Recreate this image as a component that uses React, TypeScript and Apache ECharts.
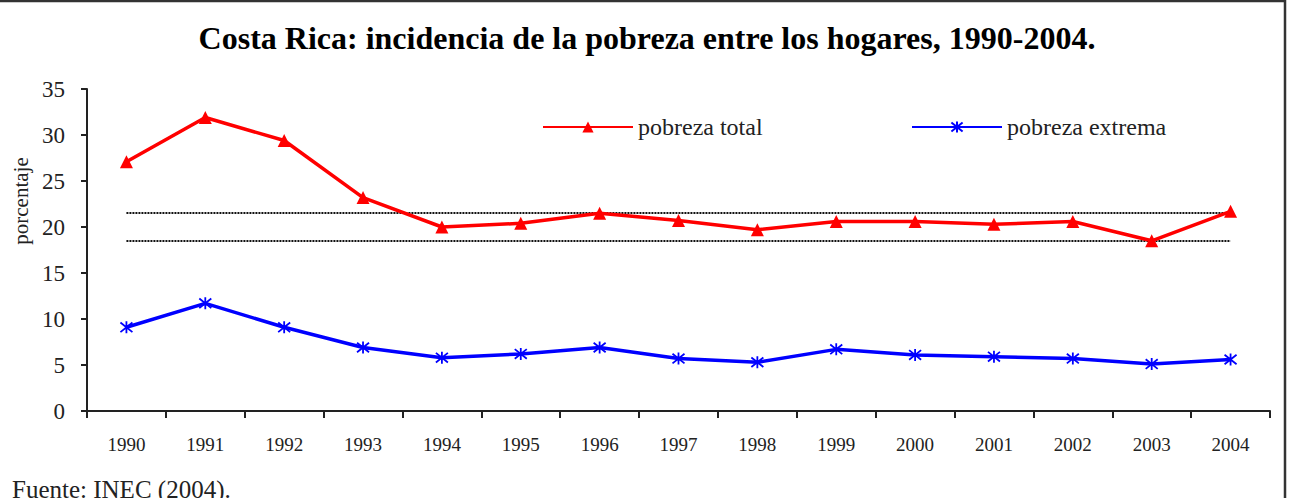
import React, { useEffect, useRef } from "react";
import * as echarts from "echarts";

const years = ["1990", "1991", "1992", "1993", "1994", "1995", "1996", "1997", "1998", "1999", "2000", "2001", "2002", "2003", "2004"];
const pobrezaTotal = [27.1, 31.9, 29.4, 23.2, 20.0, 20.4, 21.5, 20.7, 19.7, 20.6, 20.6, 20.3, 20.6, 18.5, 21.7];
const pobrezaExtrema = [9.1, 11.7, 9.1, 6.9, 5.8, 6.2, 6.9, 5.7, 5.3, 6.7, 6.1, 5.9, 5.7, 5.1, 5.6];
// band limits drawn as dotted horizontal guides
const bandLevels = [21.5, 18.5];
const yTicks = { min: 0, max: 35, interval: 5 };

const SERIF = "Liberation Serif";
const ASTERISK = "path://M1,1L9,9M9,1L1,9M5,0L5,10";

export default function App() {
  const ref = useRef<HTMLDivElement>(null);

  useEffect(() => {
    document.body.style.margin = "0";
    if (!ref.current) return;
    const chart = echarts.init(ref.current, undefined, { renderer: "svg" });

    const guideLines = bandLevels.map((v) => [
      { coord: [0, v] },
      { coord: [years.length - 1, v] },
    ]);

    const legendText = { fontFamily: SERIF, fontSize: 24, color: "#222" };

    chart.setOption({
      animation: false,
      backgroundColor: "#fff",
      textStyle: { fontFamily: SERIF },
      title: {
        text: "Costa Rica: incidencia de la pobreza entre los hogares, 1990-2004.",
        left: 642,
        textAlign: "center",
        top: 17,
        textStyle: { fontFamily: SERIF, fontWeight: "bold", fontSize: 32, color: "#000" },
      },
      legend: [
        {
          data: ["pobreza total"],
          left: 537,
          top: 110,
          itemWidth: 90,
          itemHeight: 14,
          textStyle: legendText,
        },
        {
          data: ["pobreza extrema"],
          left: 906,
          top: 110,
          itemWidth: 90,
          itemHeight: 14,
          textStyle: legendText,
        },
      ],
      grid: { left: 87, right: 21, top: 89, bottom: 87, containLabel: false },
      xAxis: {
        type: "category",
        data: years,
        boundaryGap: true,
        axisLine: { lineStyle: { color: "#222", width: 2 } },
        axisTick: { show: true, interval: 0, length: 7, lineStyle: { color: "#222", width: 2 } },
        axisLabel: { fontFamily: SERIF, fontSize: 19, color: "#222", margin: 24, interval: 0 },
        splitLine: { show: false },
      },
      yAxis: {
        type: "value",
        min: yTicks.min,
        max: yTicks.max,
        interval: yTicks.interval,
        axisLine: { show: true, lineStyle: { color: "#222", width: 2 } },
        axisTick: { show: true, length: 6, lineStyle: { color: "#222", width: 2 } },
        axisLabel: { fontFamily: SERIF, fontSize: 23, color: "#222", margin: 22 },
        splitLine: { show: false },
      },
      graphic: [
        {
          type: "rect",
          shape: { x: -5, y: 1, width: 1290, height: 540 },
          style: { fill: "none", stroke: "#333", lineWidth: 2.5 },
          silent: true,
        },
        {
          type: "text",
          x: 21,
          y: 201,
          rotation: Math.PI / 2,
          style: {
            text: "porcentaje",
            fontFamily: SERIF,
            fontSize: 21,
            fill: "#222",
            align: "center",
            verticalAlign: "middle",
          },
        },
        {
          type: "text",
          x: 12,
          y: 477,
          style: {
            text: "Fuente: INEC (2004).",
            fontFamily: SERIF,
            fontSize: 25,
            fill: "#222",
            align: "left",
            verticalAlign: "top",
          },
        },
      ],
      series: [
        {
          name: "pobreza total",
          type: "line",
          data: pobrezaTotal,
          symbol: "triangle",
          symbolSize: 13,
          lineStyle: { color: "#ff0000", width: 3.5 },
          itemStyle: { color: "#ff0000" },
          z: 3,
          markLine: {
            silent: true,
            symbol: "none",
            label: { show: false },
            lineStyle: { color: "#111", width: 2, type: [2, 1] },
            data: guideLines,
            z: 2,
          },
        },
        {
          name: "pobreza extrema",
          type: "line",
          data: pobrezaExtrema,
          symbol: ASTERISK,
          symbolSize: 12,
          lineStyle: { color: "#0000ff", width: 3.5 },
          itemStyle: { color: "#0000ff", borderColor: "#0000ff", borderWidth: 1.8 },
          z: 3,
        },
      ],
    });

    return () => chart.dispose();
  }, []);

  return <div ref={ref} style={{ width: 1291, height: 498 }} />;
}
